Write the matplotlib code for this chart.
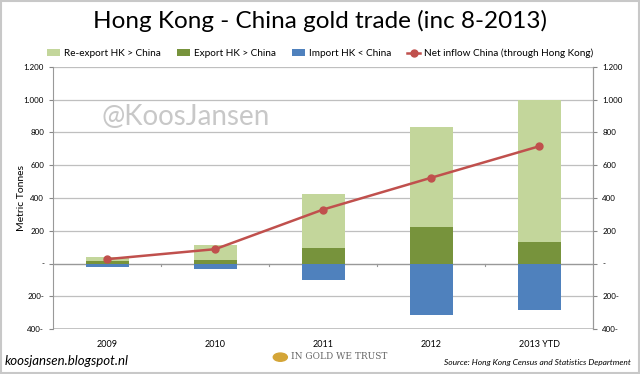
import matplotlib.pyplot as plt
import numpy as np
from matplotlib.patches import Circle

plt.rcParams['font.family'] = ['Lato', 'DejaVu Sans']

# data (metric tonnes)
years = ["2009", "2010", "2011", "2012", "2013 YTD"]
export_hk = [14, 20, 98, 222, 133]
reexport_hk = [29, 96, 328, 612, 867]
import_hk = [-22, -32, -100, -312, -283]
net_inflow = [27, 88, 330, 524, 716]
yticks = [-400, -200, 0, 200, 400, 600, 800, 1000, 1200]
ytick_labels = ["400-", "200-", "-", "200", "400", "600", "800", "1.000", "1.200"]

c_reexp = '#C3D69B'
c_exp = '#77933C'
c_imp = '#4F81BD'
c_net = '#C0504D'
grid_c = '#BFBFBF'

fig = plt.figure(figsize=(6.4, 3.74), dpi=100)
ax = fig.add_axes([0.083, 0.12, 0.844, 0.701])

x = np.arange(len(years))
w = 0.4
b1 = ax.bar(x, reexport_hk, w, bottom=export_hk, color=c_reexp, zorder=3)
b2 = ax.bar(x, export_hk, w, color=c_exp, zorder=3)
b3 = ax.bar(x, import_hk, w, color=c_imp, zorder=3)
ln, = ax.plot(x, net_inflow, color=c_net, lw=1.8, marker='o', ms=5, zorder=4)

ax.set_xlim(-0.5, len(years) - 0.5)
ax.set_ylim(-400, 1200)
ax.set_yticks(yticks)
ax.set_yticklabels(ytick_labels, fontsize=5.8)
ax.set_xticks(x)
ax.set_xticklabels(years, fontsize=6.5)
ax.tick_params(axis='x', length=0, pad=8)
ax.tick_params(axis='y', length=3, color='#888888', width=0.8)
ax.grid(axis='y', color=grid_c, lw=0.9, zorder=0)
for s in ['top', 'bottom']:
    ax.spines[s].set_visible(False)
for s in ['left', 'right']:
    ax.spines[s].set_color('#999999')
ax.axhline(0, color='#999999', lw=0.9, zorder=2)
ax.axhline(-400, color='#BBBBBB', lw=1.2, zorder=2)
for xb in np.arange(0.5, len(years) - 1, 1):
    ax.plot([xb, xb], [0, -15], color='#999999', lw=0.8, zorder=2)
ax.set_ylabel('Metric Tonnes', fontsize=7.5)
ax.yaxis.set_label_coords(-0.05, 0.5)

ax2 = ax.twinx()
ax2.set_ylim(ax.get_ylim())
ax2.set_yticks(yticks)
ax2.set_yticklabels(ytick_labels, fontsize=5.8)
ax2.tick_params(axis='y', length=3, color='#888888', width=0.8)
for s in ['top', 'bottom', 'left']:
    ax2.spines[s].set_visible(False)
ax2.spines['right'].set_color('#999999')

fig.legend([b1, b2, b3, ln],
           ['Re-export HK > China', 'Export HK > China', 'Import HK < China',
            'Net inflow China (through Hong Kong)'],
           loc='center', bbox_to_anchor=(0.5, 0.858), ncol=4, frameon=False,
           fontsize=7.2, handlelength=1.3, handleheight=0.6, columnspacing=1.6, handletextpad=0.4)

fig.text(0.5, 0.945, 'Hong Kong - China gold trade (inc 8-2013)', ha='center', va='center', fontsize=17.5)
ax.text(0.09, 0.81, '@KoosJansen', transform=ax.transAxes, fontsize=20, color='#C8C8C8',
        ha='left', va='center', zorder=5)
fig.text(0.008, 0.035, 'koosjansen.blogspot.nl', fontsize=9.5, style='italic', va='center')
fig.text(0.985, 0.03, 'Source: Hong Kong Census and Statistics Department', fontsize=6,
         style='italic', ha='right', va='center')
fig.patches.append(Circle((0.438, 0.045), 0.011, transform=fig.transFigure, color='#D4A537',
                          figure=fig))
fig.text(0.455, 0.047, 'IN GOLD WE TRUST', fontsize=6.5, color='#666666', va='center',
         family='DejaVu Serif')

fig.patches.append(plt.Rectangle((0.002, 0.002), 0.996, 0.996, transform=fig.transFigure,
                                 fill=False, ec='#C8C8C8', lw=1.5, figure=fig))

fig.savefig('out.png', dpi=100)
